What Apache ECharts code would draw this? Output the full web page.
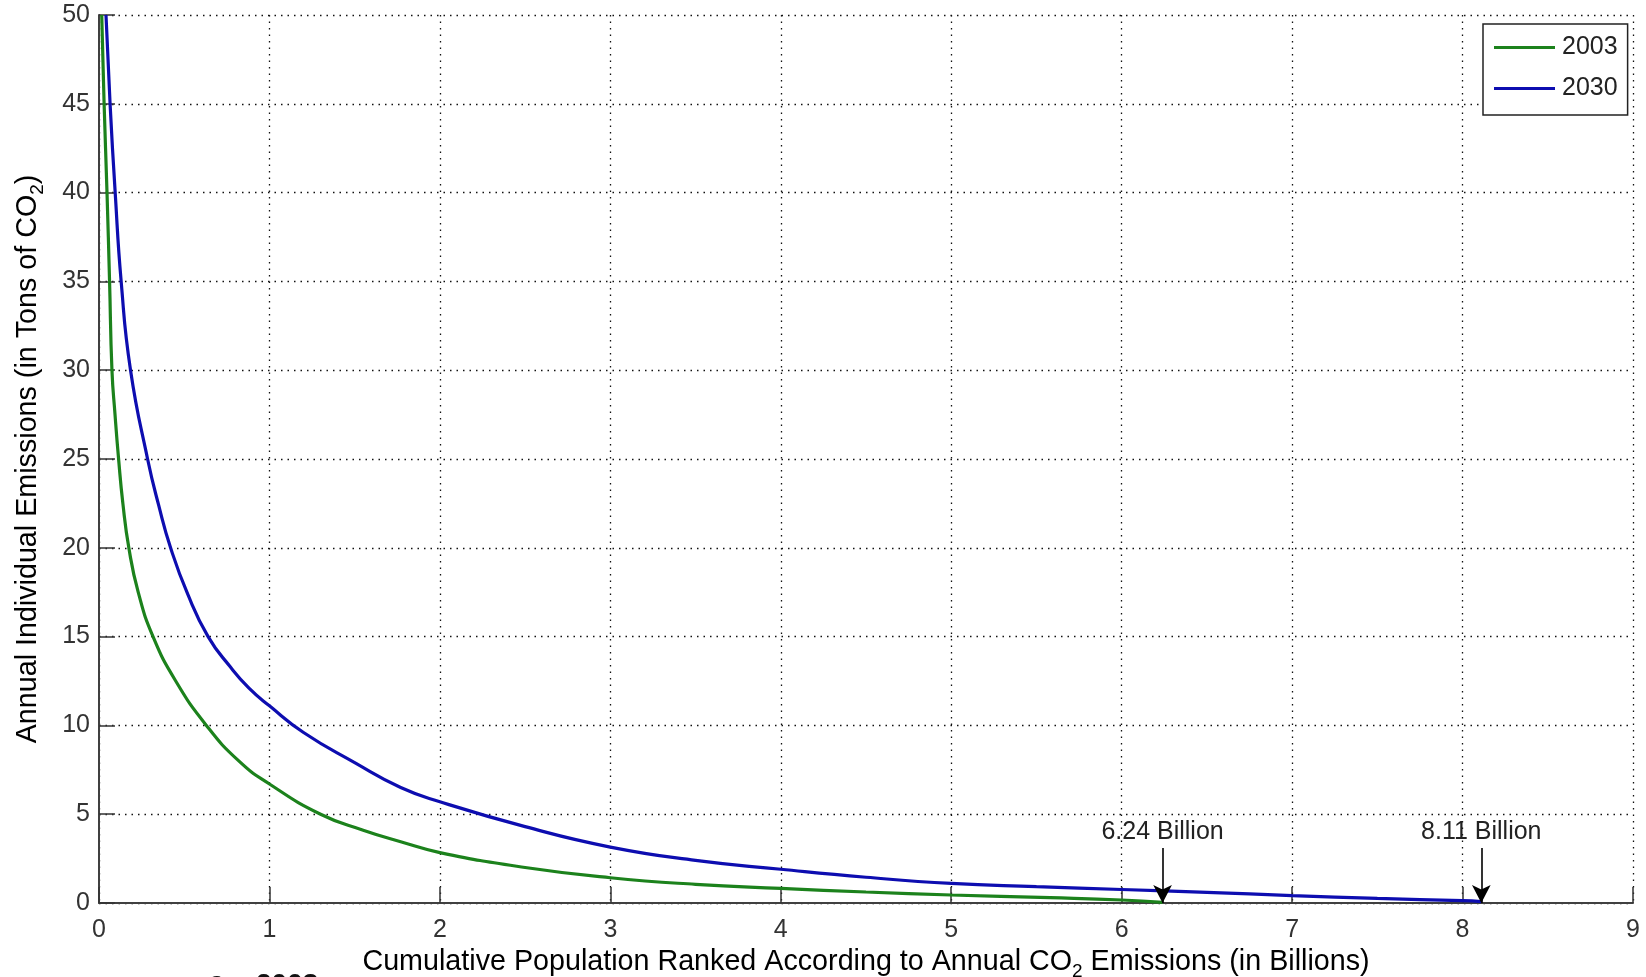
<!DOCTYPE html>
<html>
<head>
<meta charset="utf-8">
<script src="https://cdn.jsdelivr.net/npm/echarts@6/dist/echarts.min.js"></script>
<style>
  html, body { margin: 0; padding: 0; background: #fff; }
  #chart { width: 1646px; height: 977px; }
</style>
</head>
<body>
<div id="chart"></div>
<script>
// Cumulative population (billions) ranked by annual per-person emissions,
// and the emissions (tons of CO2) at that rank.
const seriesNames = ['2003', '2030'];

const pop2003  = [0.016, 0.03, 0.047, 0.062, 0.076, 0.094, 0.115, 0.14, 0.175, 0.23, 0.317, 0.45, 0.63, 0.82, 1.0, 1.3, 1.55, 1.77, 2.0,  2.5, 3.0,  3.5,  4.0,  4.5,  5.0,  5.58, 6.0,  6.24];
const emis2003 = [50,    45,   40,    35,    30,    27.5,  25,    22.5, 20,    17.5, 15,    12.5, 10,   8,    6.7, 5.0, 4.1,  3.45, 2.84, 2.0, 1.42, 1.05, 0.82, 0.62, 0.45, 0.3,  0.17, 0.04];

const pop2030  = [0.041, 0.065, 0.095, 0.13, 0.185, 0.285, 0.35, 0.42, 0.52, 0.64, 0.77, 0.88, 1.0,  1.2, 1.5, 1.77, 2.0, 2.5, 3.0,  3.5, 4.0, 4.5,  5.0, 5.5,  6.0,  6.5, 7.0,  7.5,  8.0,  8.11];
const emis2030 = [50,    45,    40,    35,   30,    25,    22.4, 20,   17.4, 15,   13.3, 12.1, 11.1, 9.6, 7.9, 6.5,  5.7, 4.3, 3.15, 2.4, 1.9, 1.45, 1.1, 0.92, 0.76, 0.6, 0.42, 0.26, 0.13, 0.08];

const xTickInterval = 1, xMin = 0, xMax = 9;
const yTickInterval = 5, yMin = 0, yMax = 50;

const colors = ['#1c821c', '#0d0db0'];
const FONT = '"Liberation Sans", Arial, Helvetica, sans-serif';

function pairs(xs, ys) { return xs.map((x, i) => [x, ys[i]]); }

// Arrow annotation pointing at the end of a curve, labelled with its population total.
function endArrow(xs) {
  const endX = xs[xs.length - 1];
  return {
    silent: true,
    symbol: ['none', 'arrow'],
    symbolSize: [14, 18],
    lineStyle: { color: '#000', width: 1.6, type: 'solid' },
    label: {
      show: true, position: 'start', distance: 3,
      formatter: endX.toFixed(2) + ' Billion',
      color: '#222', fontSize: 25, fontFamily: FONT
    },
    data: [[{ coord: [endX, 3.1] }, { coord: [endX, 0] }]]
  };
}

const axisCommon = {
  axisLine: { show: true, onZero: false, lineStyle: { color: '#404040', width: 2 } },
  axisTick: { show: true, inside: true, length: 16, lineStyle: { color: '#333', width: 1.5 } },
  splitLine: { show: true, lineStyle: { color: '#111', width: 1.3, type: [1.5, 5] } },
  axisLabel: { color: '#333', fontSize: 25, fontFamily: FONT },
  nameTextStyle: {
    color: '#000', fontSize: 28.7, fontFamily: FONT,
    rich: { sub: { fontSize: 19, fontFamily: FONT, color: '#000', padding: [18, 0, 0, 0] } }
  }
};

const chart = echarts.init(document.getElementById('chart'), null, { renderer: 'canvas' });

chart.setOption({
  animation: false,
  backgroundColor: '#fff',
  grid: { left: 99, right: 13, top: 15, bottom: 74, containLabel: false, outerBoundsMode: 'none' },
  legend: {
    data: seriesNames,
    left: 1483, top: 24,
    orient: 'vertical',
    icon: 'rect',
    itemWidth: 61, itemHeight: 3, itemGap: 14,
    padding: [10, 10, 13, 11],
    backgroundColor: '#fff',
    borderColor: '#222', borderWidth: 1.5,
    textStyle: { color: '#222', fontSize: 25, fontFamily: FONT, lineHeight: 27, padding: [0, 0, 0, 2] }
  },
  xAxis: Object.assign({}, axisCommon, {
    type: 'value', min: xMin, max: xMax, interval: xTickInterval,
    name: 'Cumulative Population Ranked According to Annual CO{sub|2} Emissions (in Billions)',
    nameLocation: 'middle', nameGap: 36,
    axisLabel: Object.assign({}, axisCommon.axisLabel, { margin: 15 })
  }),
  yAxis: Object.assign({}, axisCommon, {
    type: 'value', min: yMin, max: yMax, interval: yTickInterval,
    name: 'Annual Individual Emissions (in Tons of CO{sub|2})',
    nameLocation: 'middle', nameGap: 52, nameRotate: 90,
    axisLabel: Object.assign({}, axisCommon.axisLabel, { margin: 9 })
  }),
  series: [
    {
      name: seriesNames[0], type: 'line', data: pairs(pop2003, emis2003),
      showSymbol: false, smooth: 0.5, clip: true,
      lineStyle: { color: colors[0], width: 3.2 }, itemStyle: { color: colors[0] },
      markLine: endArrow(pop2003)
    },
    {
      name: seriesNames[1], type: 'line', data: pairs(pop2030, emis2030),
      showSymbol: false, smooth: 0.5, clip: true,
      lineStyle: { color: colors[1], width: 3.2 }, itemStyle: { color: colors[1] },
      markLine: endArrow(pop2030)
    }
  ],
  graphic: [
    {
      type: 'text', left: 209, top: 969, silent: true,
      style: { text: 'a', fill: '#111', font: 'bold 28px ' + FONT }
    },
    {
      type: 'text', left: 256, top: 971, silent: true,
      style: { text: '2003', fill: '#111', font: 'bold 28px ' + FONT }
    }
  ]
});
</script>
</body>
</html>
